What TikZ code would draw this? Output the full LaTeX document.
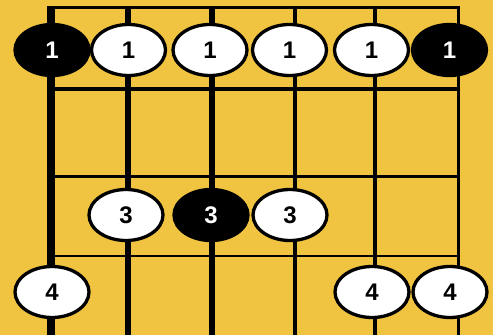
\documentclass[tikz,border=0pt]{standalone}
\usepackage{fontspec}
\setmainfont{Liberation Sans}
\usetikzlibrary{shapes.geometric}
\definecolor{bgyellow}{RGB}{240,196,64}
\tikzset{
  stringline/.style={line width=#1, line cap=butt},
  fretline/.style={line width=#1},
  dotbase/.style={ellipse, minimum width=74pt, minimum height=51pt, inner sep=0pt,
    line width=3.3pt, font=\fontsize{24}{24}\selectfont\bfseries},
  whitedot/.style={dotbase, draw=black, fill=white, text=black},
  blackdot/.style={dotbase, draw=black, fill=black, text=white},
}
\begin{document}
\begin{tikzpicture}[x=1pt,y=-1pt]
\fill[bgyellow] (0,0) rectangle (493,335);
\useasboundingbox (0,0) rectangle (493,335);
% named anchor coordinates for strings
\foreach \n/\x in {1/51,2/128,3/212,4/295,5/375,6/458}{
  \coordinate (s\n top) at (\x,6);
  \coordinate (s\n bot) at (\x,335);
}
% fret lines
\coordinate (n0a) at (47,7.5); \coordinate (n0b) at (460,7.5);
\coordinate (f1a) at (51,89);  \coordinate (f1b) at (458,89);
\coordinate (f2a) at (51,176); \coordinate (f2b) at (458,176);
\coordinate (f3a) at (51,256); \coordinate (f3b) at (458,256);
\draw[fretline=3pt] (n0a) -- (n0b);
\draw[fretline=3.3pt] (f1a) -- (f1b);
\draw[fretline=3pt] (f2a) -- (f2b);
\draw[fretline=2.6pt] (f3a) -- (f3b);
% strings
\draw[stringline=8pt] (s1top) -- (s1bot);
\draw[stringline=6pt] (s2top) -- (s2bot);
\draw[stringline=6pt] (s3top) -- (s3bot);
\draw[stringline=4.5pt] (s4top) -- (s4bot);
\draw[stringline=4pt] (s5top) -- (s5bot);
\draw[stringline=3pt] (s6top) -- (s6bot);
% row 1
\node[blackdot] (a1) at (52,50) {1};
\node[whitedot] (a2) at (128.5,50) {1};
\node[whitedot] (a3) at (210,50) {1};
\node[whitedot] (a4) at (289.5,50) {1};
\node[whitedot] (a5) at (371.5,50) {1};
\node[blackdot] (a6) at (449.5,50) {1};
% row 2
\node[whitedot] (b2) at (126,215) {3};
\node[blackdot] (b3) at (211,215) {3};
\node[whitedot] (b4) at (290,215) {3};
% row 3
\node[whitedot] (c1) at (52,292) {4};
\node[whitedot] (c5) at (372,292) {4};
\node[whitedot] (c6) at (450,292) {4};
\end{tikzpicture}
\end{document}
